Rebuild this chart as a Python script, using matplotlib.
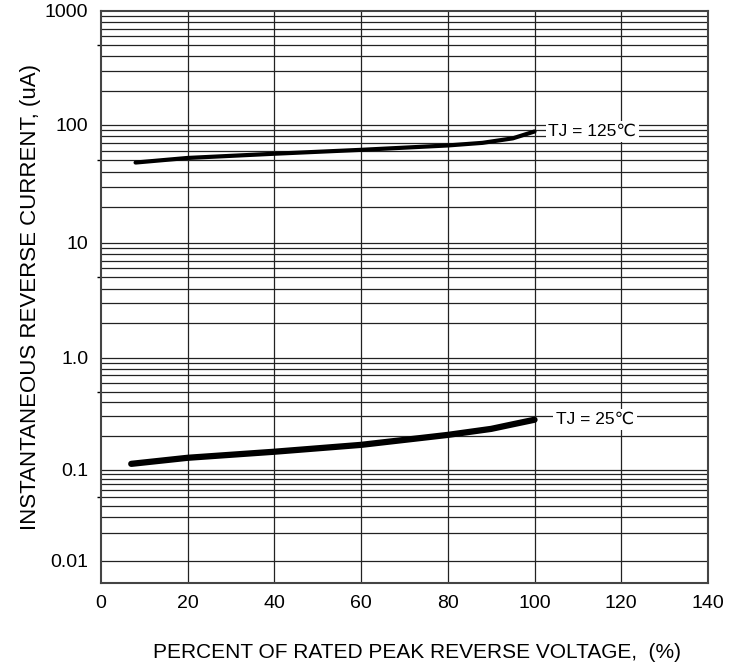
import numpy as np
import matplotlib.pyplot as plt

plt.rcParams['font.family'] = ['Liberation Sans', 'DejaVu Sans']

# reverse current vs percent of rated peak reverse voltage
pct_125 = [8, 20, 40, 60, 80, 88, 95, 100]
ir_125 = [48, 52.5, 57, 61.5, 67, 70.5, 77, 88]
pct_25 = [7, 20, 40, 60, 80, 90, 95, 100]
ir_25 = [0.113, 0.128, 0.145, 0.167, 0.205, 0.232, 0.255, 0.28]

x_ticks = [0, 20, 40, 60, 80, 100, 120, 140]
y_ticks = [0.01, 0.1, 1.0, 10, 100, 1000]
y_labels = ['0.01', '0.1', '1.0', '10', '100', '1000']

# the printed log grid is not quite even: decade positions (px from bottom)
dec_log = [-2.24, -2, -1, 0, 1, 2, 3]
dec_pos = [0, 22, 113, 225, 340, 458, 572]

def fwd(y):
    y = np.asarray(y, dtype=float)
    return np.interp(np.log10(np.clip(y, 1e-6, None)), dec_log, dec_pos)

def inv(p):
    return 10 ** np.interp(np.asarray(p, dtype=float), dec_pos, dec_log)

fig = plt.figure(figsize=(7.31, 6.66), dpi=100)
ax = fig.add_axes([0.138, 0.125, 0.8305, 0.8585])
ax.set_yscale('function', functions=(fwd, inv))
ax.set_xlim(0, 140)
ax.set_ylim(10 ** dec_log[0], 1000)

# grid: every log minor step, and every 20 %
for dec in [0.01, 0.1, 1, 10, 100]:
    for m in range(1, 10):
        ax.axhline(dec * m, color='#222222', lw=0.9, zorder=1)
for xv in x_ticks[1:-1]:
    ax.axvline(xv, color='#222222', lw=0.9, zorder=1)

ax.plot(pct_125, ir_125, color='black', lw=3, solid_capstyle='round', zorder=3)
ax.plot(pct_25, ir_25, color='black', lw=4.5, solid_capstyle='round', zorder=3)

ax.text(103.2, 88, 'TJ = 125℃', fontsize=12.5, va='center', ha='left',
        bbox=dict(facecolor='white', edgecolor='none', pad=2), zorder=4)
ax.text(105, 0.28, 'TJ = 25℃', fontsize=12.5, va='center', ha='left',
        bbox=dict(facecolor='white', edgecolor='none', pad=2), zorder=4)

ax.set_xticks(x_ticks)
ax.set_yticks(y_ticks)
ax.set_yticklabels(y_labels)
ax.set_yticks([0.05, 0.5, 5, 50, 500], minor=True)
ax.yaxis.set_minor_formatter(plt.NullFormatter())
ax.tick_params(axis='both', which='major', length=0, labelsize=14, pad=9)
ax.tick_params(axis='y', which='minor', length=3, width=1, direction='out')
for s in ax.spines.values():
    s.set_linewidth(1.5)
    s.set_color('#444444')

ax.set_xlabel('PERCENT OF RATED PEAK REVERSE VOLTAGE,  (%)', fontsize=15, labelpad=22)
ax.xaxis.label.set_x(0.52)
ax.set_ylabel('INSTANTANEOUS REVERSE CURRENT, (uA)', fontsize=16, labelpad=3)

fig.savefig('out.png', dpi=100)
